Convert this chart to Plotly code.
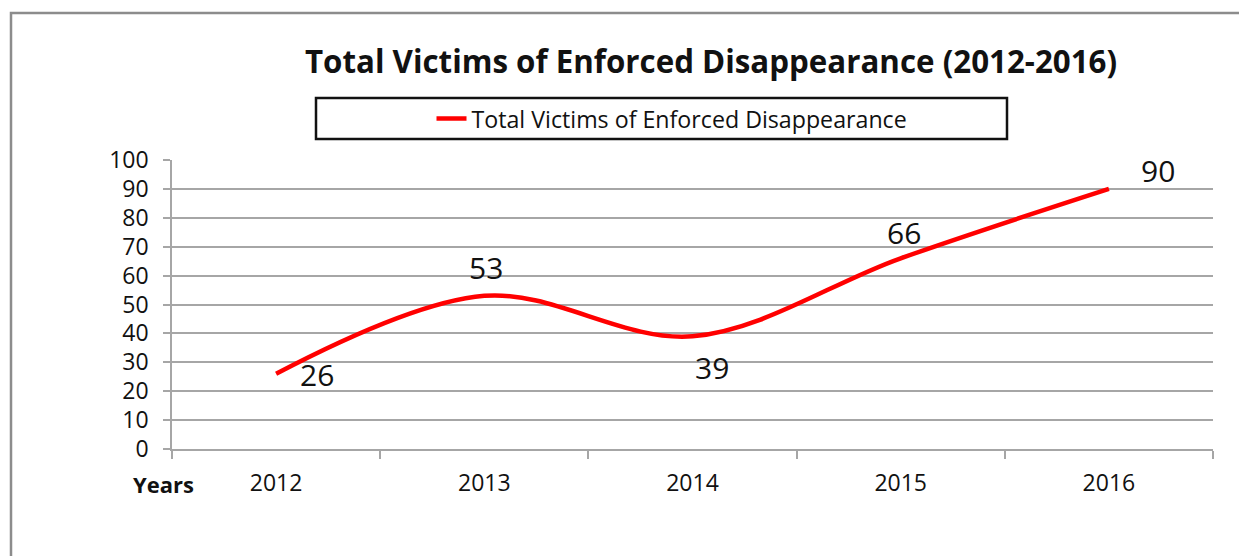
import plotly.graph_objs as go

years = ["2012", "2013", "2014", "2015", "2016"]
victims = [26, 53, 39, 66, 90]
y_ticks = [0, 10, 20, 30, 40, 50, 60, 70, 80, 90, 100]

# label offsets (px) relative to each point, as in the original Excel chart
label_dx = [41, 2, 19, 3, 49]
label_dy = [-1, 28, -31, 26, 18]

FONT = "Open Sans"
GRID = "#a6a6a6"
W, H = 1239, 548   # page body keeps an 8px margin


def px(x):
    return (x - 172) / 1041


def py(y):
    return (449 - y) / 289


fig = go.Figure()

fig.add_trace(go.Scatter(x=years,
                         y=victims,
                         mode="lines",
                         line=dict(color="#ff0000", width=4.5,
                                   shape="spline", smoothing=1.0),
                         name="Total Victims of Enforced Disappearance"))

# data labels
for i, (v, dx, dy) in enumerate(zip(victims, label_dx, label_dy)):
    fig.add_annotation(x=i, y=v, xref="x", yref="y", text=str(v),
                       showarrow=False, xshift=dx, yshift=dy,
                       font=dict(family=FONT, size=30, color="#111111"))

fig.add_annotation(xref="paper", yref="paper", x=px(196), y=py(484),
                   xanchor="right", yanchor="middle", text="<b>Years</b>",
                   showarrow=False,
                   font=dict(family=FONT, size=22, color="#111111"))

# outer frame (left and top edges visible) and legend box
fig.add_shape(type="rect", xref="paper", yref="paper",
              x0=px(11), x1=1.2, y0=-0.6, y1=py(13),
              line=dict(color="#8c8c8c", width=2.5), layer="below")
fig.add_shape(type="rect", xref="paper", yref="paper",
              x0=px(316), x1=px(1007), y0=py(139), y1=py(98),
              line=dict(color="#111111", width=2.5))

fig.update_layout(
    width=W,
    height=H,
    margin=dict(l=164, r=34, t=152, b=107),
    paper_bgcolor="white",
    plot_bgcolor="white",
    title=dict(text="<b>Total Victims of Enforced Disappearance (2012-2016)</b>",
               x=(711 - 8) / W, xanchor="center", y=1 - (62 - 8) / H,
               yanchor="middle",
               font=dict(family=FONT, size=31.3, color="#111111")),
    showlegend=True,
    legend=dict(orientation="h", x=px(672), xanchor="center",
                y=py(119), yanchor="middle",
                bgcolor="rgba(0,0,0,0)", borderwidth=0,
                font=dict(family=FONT, size=23.2, color="#111111")),
    font=dict(family=FONT, color="#111111"),
)

fig.update_xaxes(type="category", range=[-0.5, 4.5],
                 showgrid=False, showline=True, linecolor=GRID, linewidth=1.5,
                 ticks="outside", tickson="boundaries", ticklen=8,
                 tickcolor=GRID, tickwidth=1.5,
                 ticklabelstandoff=13,
                 tickfont=dict(family=FONT, size=23, color="#111111"))

fig.update_yaxes(range=[0, 100], tickvals=y_ticks,
                 showgrid=True, gridcolor=GRID, gridwidth=1.5,
                 showline=True, linecolor=GRID, linewidth=1.5,
                 ticks="outside", ticklen=7, tickcolor=GRID, tickwidth=1.5,
                 ticklabelstandoff=10, zeroline=False,
                 tickfont=dict(family=FONT, size=23, color="#111111"))

fig.write_html("out.html")
